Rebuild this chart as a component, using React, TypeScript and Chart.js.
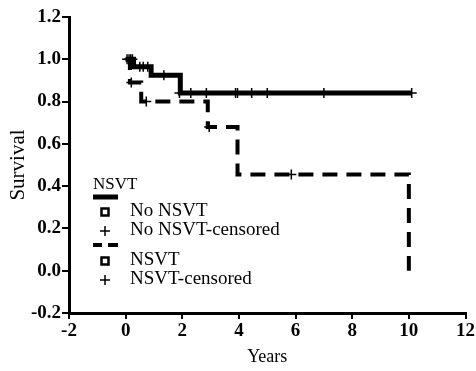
import React, { useEffect, useRef } from "react";
import { Chart, registerables } from "chart.js";

Chart.register(...registerables);

// No NSVT (solid) Kaplan-Meier steps
const noNsvtTimes = [0, 0.28, 0.9, 1.93, 10.1];
const noNsvtSurvival = [1.0, 0.965, 0.925, 0.84, 0.84];
const noNsvtCensorTimes = [0.05, 0.12, 0.18, 0.24, 0.5, 0.62, 0.78, 1.35, 1.9, 2.3, 2.85, 3.88, 3.95, 4.45, 5.0, 7.0, 10.1];
const noNsvtCensorSurvival = [1.0, 1.0, 1.0, 1.0, 0.965, 0.965, 0.965, 0.925, 0.84, 0.84, 0.84, 0.84, 0.84, 0.84, 0.84, 0.84, 0.84];

// NSVT (dashed) Kaplan-Meier steps
const nsvtTimes = [0, 0.15, 0.55, 2.9, 3.95, 10.0];
const nsvtSurvival = [1.0, 0.89, 0.8, 0.68, 0.455, 0.0];
const nsvtCensorTimes = [0.2, 0.73, 2.95, 5.85];
const nsvtCensorSurvival = [0.89, 0.8, 0.68, 0.455];

const xTicks = [-2, 0, 2, 4, 6, 8, 10, 12];
const yTicks = [-0.2, 0, 0.2, 0.4, 0.6, 0.8, 1.0, 1.2];

const legendTitle = "NSVT";
const legendLabels = ["No NSVT", "No NSVT-censored", "NSVT", "NSVT-censored"];

const FONT = "'Liberation Serif', 'DejaVu Serif', serif";

const toPts = (xs: number[], ys: number[]) => xs.map((x, i) => ({ x, y: ys[i] }));

const legendPlugin = {
  id: "kmLegend",
  afterDraw(chart: any) {
    const ctx = chart.ctx as CanvasRenderingContext2D;
    const a = chart.chartArea;
    const x0 = a.left + 24;
    const y0 = a.top + 158;
    ctx.save();
    ctx.fillStyle = "#000";
    ctx.strokeStyle = "#000";
    ctx.textBaseline = "alphabetic";
    ctx.font = `17px ${FONT}`;
    ctx.fillText(legendTitle, x0, y0 + 14);
    // solid line sample
    ctx.lineWidth = 5;
    ctx.setLineDash([]);
    ctx.beginPath();
    ctx.moveTo(x0, y0 + 22);
    ctx.lineTo(x0 + 25, y0 + 22);
    ctx.stroke();
    const sx = x0 + 12;
    const tx = x0 + 37;
    const square = (cy: number) => {
      ctx.lineWidth = 2.5;
      ctx.setLineDash([]);
      ctx.strokeRect(sx - 3.5, cy - 3.5, 7, 7);
    };
    const cross = (cy: number) => {
      ctx.lineWidth = 1.5;
      ctx.setLineDash([]);
      ctx.beginPath();
      ctx.moveTo(sx - 5, cy);
      ctx.lineTo(sx + 5, cy);
      ctx.moveTo(sx, cy - 5);
      ctx.lineTo(sx, cy + 5);
      ctx.stroke();
    };
    ctx.font = `19px ${FONT}`;
    square(y0 + 37);
    ctx.fillText(legendLabels[0], tx, y0 + 41);
    cross(y0 + 56);
    ctx.fillText(legendLabels[1], tx, y0 + 60);
    // dashed sample
    ctx.lineWidth = 4;
    ctx.beginPath();
    ctx.moveTo(x0, y0 + 70);
    ctx.lineTo(x0 + 9, y0 + 70);
    ctx.moveTo(x0 + 15, y0 + 70);
    ctx.lineTo(x0 + 25, y0 + 70);
    ctx.stroke();
    square(y0 + 86);
    ctx.fillText(legendLabels[2], tx, y0 + 90);
    cross(y0 + 105);
    ctx.fillText(legendLabels[3], tx, y0 + 109);
    ctx.restore();
  },
};

export default function App() {
  const ref = useRef<HTMLCanvasElement>(null);
  useEffect(() => {
    document.body.style.margin = "0";
    const canvas = ref.current!;
    const chart = new Chart(canvas, {
      type: "line",
      data: {
        datasets: [
          {
            label: "No NSVT",
            data: toPts(noNsvtTimes, noNsvtSurvival),
            stepped: true,
            borderColor: "#000",
            borderWidth: 5,
            pointRadius: 0,
            fill: false,
          },
          {
            label: "No NSVT-censored",
            data: toPts(noNsvtCensorTimes, noNsvtCensorSurvival),
            showLine: false,
            pointStyle: "cross",
            pointRadius: 5,
            pointBorderWidth: 1.5,
            pointBorderColor: "#000",
            borderColor: "#000",
          },
          {
            label: "NSVT",
            data: toPts(nsvtTimes, nsvtSurvival),
            stepped: true,
            borderColor: "#000",
            borderWidth: 4,
            borderDash: [15, 9],
            pointRadius: 0,
            fill: false,
          },
          {
            label: "NSVT-censored",
            data: toPts(nsvtCensorTimes, nsvtCensorSurvival),
            showLine: false,
            pointStyle: "cross",
            pointRadius: 5,
            pointBorderWidth: 1.5,
            pointBorderColor: "#000",
            borderColor: "#000",
          },
        ],
      },
      options: {
        animation: false,
        responsive: false,
        layout: { padding: { top: 17, right: 10, left: 0, bottom: 0 } },
        plugins: { legend: { display: false }, tooltip: { enabled: false } },
        scales: {
          x: {
            type: "linear",
            min: -2,
            max: 12,
            afterBuildTicks: (s: any) => {
              s.ticks = xTicks.map((v) => ({ value: v }));
            },
            afterFit: (s: any) => {
              s.height = 58;
            },
            border: { display: true, color: "#000", width: 3 },
            grid: { display: true, drawOnChartArea: false, drawTicks: true, tickLength: 6, color: "#000", lineWidth: 2 },
            ticks: {
              color: "#000",
              padding: 1,
              maxRotation: 0,
              font: { family: FONT, size: 19, weight: "bold" },
              callback: (v: any) => String(v),
            },
            title: {
              display: true,
              text: "Years",
              color: "#000",
              font: { family: FONT, size: 18 },
              padding: { top: 0, bottom: 3 },
            },
          },
          y: {
            type: "linear",
            min: -0.2,
            max: 1.2,
            afterBuildTicks: (s: any) => {
              s.ticks = yTicks.map((v) => ({ value: v }));
            },
            afterFit: (s: any) => {
              s.width = 69;
            },
            border: { display: true, color: "#000", width: 3 },
            grid: { display: true, drawOnChartArea: false, drawTicks: true, tickLength: 7, color: "#000", lineWidth: 2 },
            ticks: {
              color: "#000",
              padding: 1,
              font: { family: FONT, size: 19, weight: "bold" },
              callback: (v: any) => Number(v).toFixed(1),
            },
            title: {
              display: true,
              text: "Survival",
              color: "#000",
              font: { family: FONT, size: 21 },
              padding: { top: 6, bottom: 0 },
            },
          },
        },
      },
      plugins: [legendPlugin],
    });
    return () => chart.destroy();
  }, []);
  return <canvas ref={ref} width={476} height={371} style={{ display: "block" }} />;
}
